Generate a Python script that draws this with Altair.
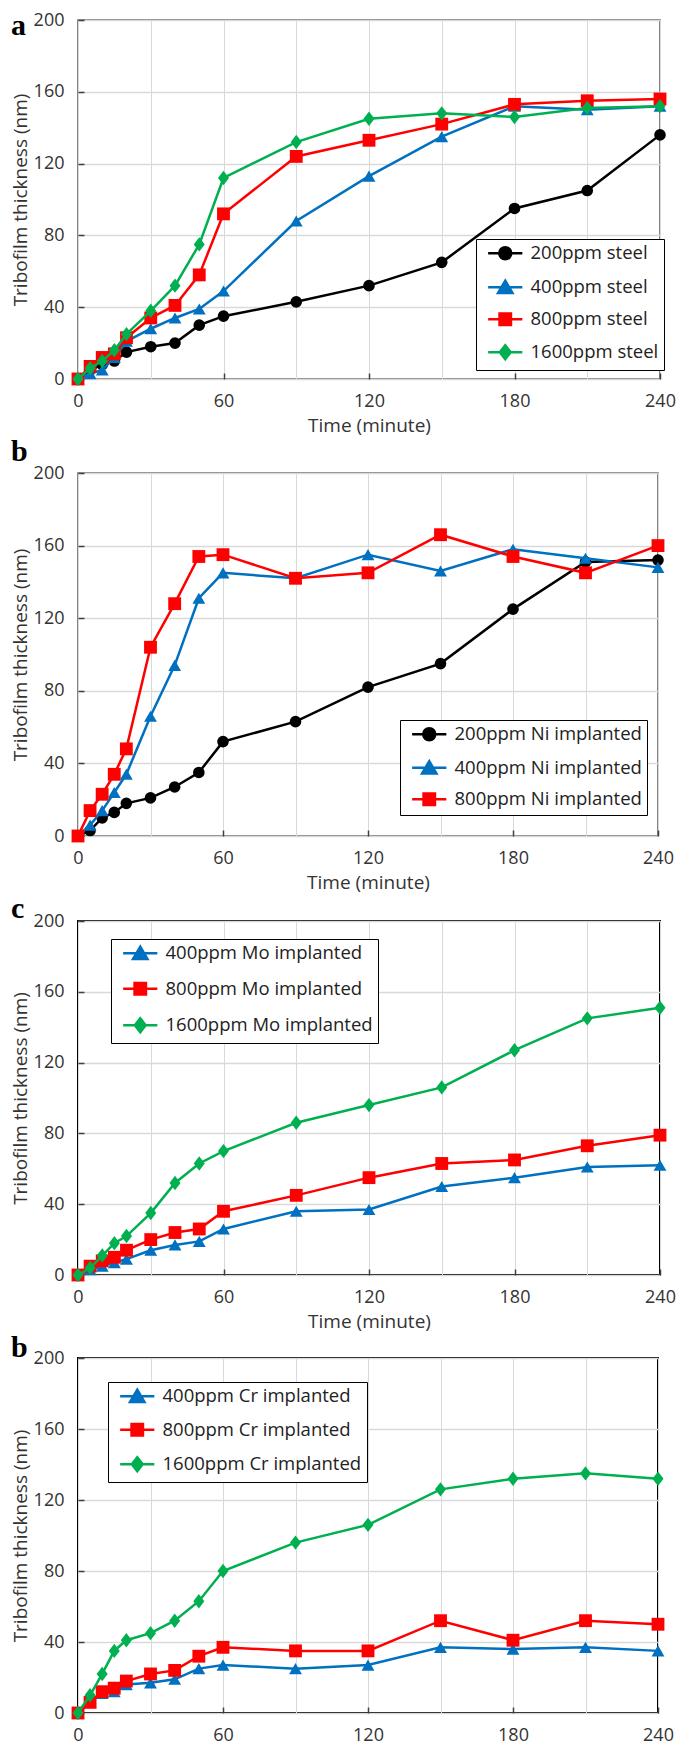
import altair as alt
import pandas as pd

# ---------------- data ----------------
time_min = [0, 5, 10, 15, 20, 30, 40, 50, 60, 90, 120, 150, 180, 210, 240]
x_grid_values = [0, 30, 60, 90, 120, 150, 180, 210, 240]
y_tick_values = [0, 40, 80, 120, 160, 200]

a_names = ["200ppm steel", "400ppm steel", "800ppm steel", "1600ppm steel"]
a_200 = [0, 5, 8, 10, 15, 18, 20, 30, 35, 43, 52, 65, 95, 105, 136]
a_400 = [0, 3, 5, 12, 21, 28, 34, 39, 49, 88, 113, 135, 152, 150, 152]
a_800 = [0, 7, 12, 14, 23, 34, 41, 58, 92, 124, 133, 142, 153, 155, 156]
a_1600 = [0, 6, 10, 16, 25, 38, 52, 75, 112, 132, 145, 148, 146, 151, 152]

b_names = ["200ppm Ni implanted", "400ppm Ni implanted", "800ppm Ni implanted"]
b_200 = [0, 3, 10, 13, 18, 21, 27, 35, 52, 63, 82, 95, 125, 151, 152]
b_400 = [0, 6, 14, 24, 34, 66, 94, 131, 145, 142, 155, 146, 158, 153, 148]
b_800 = [0, 14, 23, 34, 48, 104, 128, 154, 155, 142, 145, 166, 154, 145, 160]

c_names = ["400ppm Mo implanted", "800ppm Mo implanted", "1600ppm Mo implanted"]
c_400 = [0, 3, 5, 7, 9, 14, 17, 19, 26, 36, 37, 50, 55, 61, 62]
c_800 = [0, 5, 8, 10, 14, 20, 24, 26, 36, 45, 55, 63, 65, 73, 79]
c_1600 = [0, 4, 11, 18, 22, 35, 52, 63, 70, 86, 96, 106, 127, 145, 151]

d_names = ["400ppm Cr implanted", "800ppm Cr implanted", "1600ppm Cr implanted"]
d_400 = [0, 6, 11, 12, 16, 17, 19, 25, 27, 25, 27, 37, 36, 37, 35]
d_800 = [0, 6, 12, 14, 18, 22, 24, 32, 37, 35, 35, 52, 41, 52, 50]
d_1600 = [0, 10, 22, 35, 41, 45, 52, 63, 80, 96, 106, 126, 132, 135, 132]

# ---------------- styles ----------------
FONT = "Open Sans"
TXT = "#333333"
MARK = {
    "circle": dict(shape="circle", color="#000000", size=135,
                   path="M-2.85,0H2.85M-1,0A1,1,0,1,1,1,0A1,1,0,1,1,-1,0Z"),
    "triangle": dict(shape="triangle-up", color="#0070C0", size=165,
                     path="M-2.85,0H2.85M0,-1.1L1.2,0.95L-1.2,0.95Z"),
    "square": dict(shape="square", color="#FF0000", size=165,
                   path="M-2.85,0H2.85M-0.95,-0.95H0.95V0.95H-0.95Z"),
    "diamond": dict(shape="M0,-1.2L0.92,0L0,1.2L-0.92,0Z", color="#00B050", size=144,
                    path="M-2.85,0H2.85M0,-1.15L0.9,0L0,1.15L-0.9,0Z"),
}


def make_panel(series, letter, letter_x, letter_y, w, h, leg_x, leg_y, leg_rowpad,
               x_title, border, border_w):
    names = [s[0] for s in series]
    rows = [{"time": t, "thickness": v, "series": s[0]}
            for s in series for t, v in zip(time_min, s[2])]
    df = pd.DataFrame(rows)

    tick_color = {"condition": {"test": "datum.value % 60 === 0", "value": "#404040"},
                  "value": "rgba(0,0,0,0)"}
    x_axis = alt.Axis(values=x_grid_values,
                      labelExpr="datum.value % 60 === 0 ? datum.label : ''",
                      grid=True, gridColor="#d9d9d9", gridWidth=1,
                      domain=False, tickSize=alt.ExprRef(expr="-6"), tickWidth=1.5,
                      tickColor=tick_color,
                      labelFont=FONT, labelFontSize=18, labelColor=TXT, labelPadding=19,
                      labelFlush=False, labelOverlap=False,
                      titleFont=FONT, titleFontSize=19, titleFontWeight="normal",
                      titleColor=TXT, titlePadding=6)
    y_axis = alt.Axis(values=y_tick_values, grid=True, gridColor="#d9d9d9", gridWidth=1.5,
                      domain=False, tickSize=alt.ExprRef(expr="-6"), tickWidth=1.5,
                      tickColor="#404040",
                      labelFont=FONT, labelFontSize=18, labelColor=TXT, labelPadding=20,
                      labelFlush=False, labelOverlap=False,
                      titleFont=FONT, titleFontSize=19, titleFontWeight="normal",
                      titleColor=TXT, titlePadding=3)
    if x_title:
        ex = alt.X("time:Q", scale=alt.Scale(domain=[0, 240], nice=False, zero=False),
                   axis=x_axis, title=x_title)
    else:
        ex = alt.X("time:Q", scale=alt.Scale(domain=[0, 240], nice=False, zero=False),
                   axis=x_axis, title=None)
    ey = alt.Y("thickness:Q", scale=alt.Scale(domain=[0, 200], nice=False),
               axis=y_axis, title="Tribofilm thickness (nm)")

    layers = []
    for name, mk, vals in series:
        st = MARK[mk]
        sub = alt.Chart(df).transform_filter(alt.datum.series == name)
        layers.append(sub.mark_line(color=st["color"], strokeWidth=2.5).encode(x=ex, y=ey))
        layers.append(sub.mark_point(shape=st["shape"], filled=True, size=st["size"],
                                     color=st["color"], opacity=1).encode(x=ex, y=ey))

    colors = [MARK[s[1]]["color"] for s in series]
    paths = [MARK[s[1]]["path"] for s in series]
    leg = dict(title=None, orient="none", legendX=leg_x, legendY=leg_y,
               strokeColor="#000000", fillColor="#ffffff", padding=5,
               symbolSize=144, symbolStrokeWidth=2.5, symbolOpacity=1, symbolOffset=15,
               labelFont=FONT, labelFontSize=18.5, labelColor="#222222", labelOffset=16,
               labelLimit=400, rowPadding=leg_rowpad)
    carrier = alt.Chart(pd.DataFrame({"series": names})).mark_point(
        filled=True, opacity=0, size=1).encode(
        x=alt.value(0), y=alt.value(0),
        fill=alt.Fill("series:N", scale=alt.Scale(domain=names, range=colors),
                      legend=alt.Legend(**leg)),
        stroke=alt.Stroke("series:N", scale=alt.Scale(domain=names, range=colors),
                          legend=alt.Legend(**leg)),
        shape=alt.Shape("series:N", scale=alt.Scale(domain=names, range=paths),
                        legend=alt.Legend(**leg)),
    )
    letter_layer = alt.Chart(pd.DataFrame({"lab": [letter]})).mark_text(
        font="Liberation Serif", fontWeight="bold", fontSize=30, align="left",
        baseline="top", color="#000000").encode(
        text="lab:N", x=alt.value(letter_x), y=alt.value(letter_y))

    return alt.layer(*layers, carrier, letter_layer).properties(
        width=w, height=h,
        view=alt.ViewBackground(stroke=border, strokeWidth=border_w))


pa = make_panel([(a_names[0], "circle", a_200), (a_names[1], "triangle", a_400),
                 (a_names[2], "square", a_800), (a_names[3], "diamond", a_1600)],
                "a", -67, -9, 582, 359, 398, 219, 10, "Time (minute)", "#595959", 1.5)
pb = make_panel([(b_names[0], "circle", b_200), (b_names[1], "triangle", b_400),
                 (b_names[2], "square", b_800)],
                "b", -67, -36, 580, 363, 322, 247, 9.5, "Time (minute)", "#595959", 1.5)
pc = make_panel([(c_names[0], "triangle", c_400), (c_names[1], "square", c_800),
                 (c_names[2], "diamond", c_1600)],
                "c", -67, -27, 582, 354, 33, 18, 13.5, "Time (minute)", "#000000", 2)
pd_ = make_panel([(d_names[0], "triangle", d_400), (d_names[1], "square", d_800),
                  (d_names[2], "diamond", d_1600)],
                 "b", -67, -25, 580, 355, 30, 24, 11.5, None, "#000000", 2)

chart = alt.vconcat(pa, pb, pc, pd_, spacing=0).resolve_scale(
    fill="independent", stroke="independent", shape="independent"
).resolve_legend(
    fill="independent", stroke="independent", shape="independent"
).properties(padding={"left": 2, "top": 2, "right": 0, "bottom": 0})

chart.save("out.html", embed_options={"renderer": "svg", "actions": False})
